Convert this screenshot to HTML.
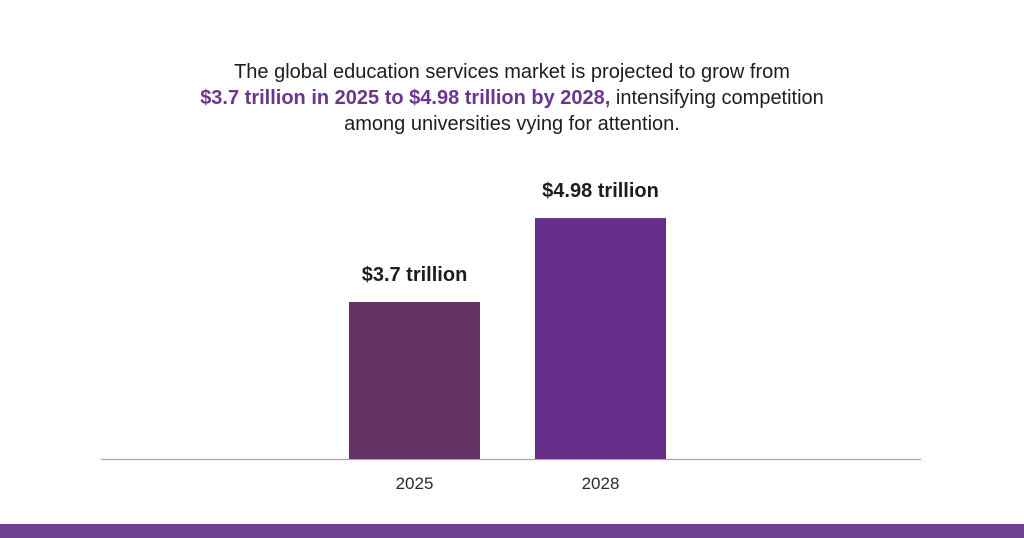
<!DOCTYPE html>
<html><head><meta charset="utf-8"><style>
body{margin:0;width:1024px;height:538px;background:#fff;overflow:hidden;font-family:"Liberation Sans","DejaVu Sans",sans-serif;position:relative}
#title{position:absolute;left:0;width:1024px;top:59px;text-align:center;font-size:20px;line-height:26px;color:#1d1d1f}
#title b{color:#6b3590}
#strip{position:absolute;left:0;top:524px;width:1024px;height:14px;background:#6f4190}
svg{position:absolute;left:0;top:0}
</style></head><body>
<div id="title">The global education services market is projected to grow from<br><b>$3.7 trillion in 2025 to $4.98 trillion by 2028,</b> intensifying competition<br>among universities vying for attention.</div>
<svg id="chart" width="1024" height="538"></svg>
<div id="strip"></div>
<script>
const categories = ["2025", "2028"];
const values = [3.7, 4.98];
const valueLabels = ["$3.7 trillion", "$4.98 trillion"];
const colors = ["#643364", "#672e8a"];
const NS = "http://www.w3.org/2000/svg";
const svg = document.getElementById("chart");
const baseY = 459, yMin = 1.307, k = 65.6;
function y(v){ return baseY - (v - yMin) * k; }
function x(i){ return 349 + i * 186; }
const bw = 131;
const axis = document.createElementNS(NS, "line");


axis.setAttribute("x1", 101); axis.setAttribute("x2", 921);
axis.setAttribute("y1", baseY + 0.5); axis.setAttribute("y2", baseY + 0.5);
axis.setAttribute("stroke", "#b89ad0"); axis.setAttribute("stroke-width", 1.2);
svg.appendChild(axis);
categories.forEach((c, i) => {
  const r = document.createElementNS(NS, "rect");
  
  
  r.setAttribute("x", x(i)); r.setAttribute("y", y(values[i]));
  r.setAttribute("width", bw); r.setAttribute("height", baseY - y(values[i]));
  r.setAttribute("fill", colors[i]);
  svg.appendChild(r);
  const t = document.createElementNS(NS, "text");
  
  
  t.setAttribute("x", x(i) + bw / 2); t.setAttribute("y", y(values[i]) - 21);
  t.setAttribute("text-anchor", "middle"); t.setAttribute("font-size", "20");
  t.setAttribute("font-weight", "bold"); t.setAttribute("fill", "#1d1d1f");
  t.textContent = valueLabels[i];
  svg.appendChild(t);
  const l = document.createElementNS(NS, "text");
  
  
  l.setAttribute("x", x(i) + bw / 2); l.setAttribute("y", 489);
  l.setAttribute("text-anchor", "middle"); l.setAttribute("font-size", "17");
  l.setAttribute("fill", "#2a2a2a");
  l.textContent = c;
  svg.appendChild(l);
});
</script>
</body></html>
